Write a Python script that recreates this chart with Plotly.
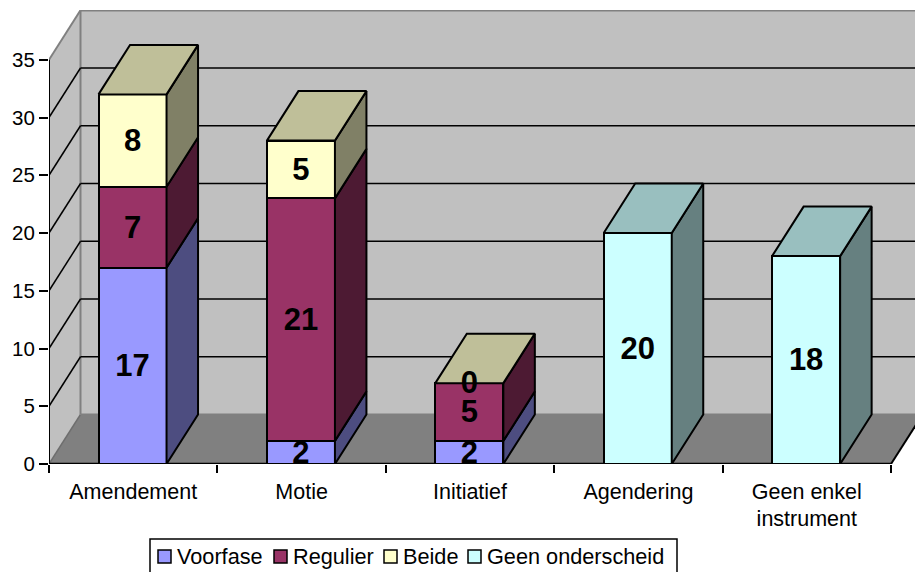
import plotly.graph_objects as go

# Series data
categories = ["Amendement", "Motie", "Initiatief", "Agendering", "Geen enkel<br>instrument"]
voorfase = [17, 2, 2, None, None]
regulier = [7, 21, 5, None, None]
beide = [8, 5, 0, None, None]
geen_onderscheid = [None, None, None, 20, 18]
series_names = ["Voorfase", "Regulier", "Beide", "Geen onderscheid"]
front_colors = ["#9999FF", "#993366", "#FFFFCC", "#CCFFFF"]
top_colors = ["#7373BF", "#732640", "#BFBF99", "#99BFBF"]
side_colors = ["#4D4D80", "#4D1A33", "#808066", "#668080"]
y_ticks = [0, 5, 10, 15, 20, 25, 30, 35]

series = [voorfase, regulier, beide, geen_onderscheid]

FONT = "Liberation Sans, Arial, sans-serif"
TEXT_SIZE = 21.5
LEGEND_SIZE = 21.7
TICK_SIZE = 20.5
LABEL_SIZE = 31

# Plot frame in pixels
LEFT, RIGHT, TOP, BOTTOM = 49, 915, 10, 464
CAT_W = 168.4
UNIT = 11.55

# Oblique projection depth, expressed in axis units
DX = 31.5 / CAT_W
DY = 49.5 / UNIT
BAR_W = 0.404
BAR_SHIFT = -0.004
LABEL_DROP = 0.22
N = len(categories)
Y_MAX = 35
x_max = (RIGHT - LEFT) / CAT_W
y_top = (BOTTOM - TOP) / UNIT


def polygon(xs, ys, fill, line="rgba(0,0,0,0)", width=1):
    path = "M" + "L".join(f"{x},{y}" for x, y in zip(xs, ys)) + "Z"
    return dict(type="path", path=path, xref="x", yref="y", fillcolor=fill,
                line=dict(color=line, width=width), layer="below")


def segment(xa, ya, xb, yb, color, width=1.5):
    return dict(type="line", xref="x", yref="y", x0=xa, y0=ya, x1=xb, y1=yb,
                line=dict(color=color, width=width), layer="below")


def px(p):
    return (p - LEFT) / (RIGHT - LEFT)


def py(p):
    return (BOTTOM - p) / (BOTTOM - TOP)


shapes = [
    # back wall, side wall and floor
    polygon([DX, N + DX, N + DX, DX], [DY, DY, Y_MAX + DY, Y_MAX + DY], "#C0C0C0"),
    polygon([0, DX, DX, 0], [0, DY, Y_MAX + DY, Y_MAX], "#C0C0C0"),
    polygon([0, N, N + DX, DX], [0, 0, DY, DY], "#808080"),
    segment(0, 0, DX, DY, "#6E6E6E"),
    segment(DX, DY, DX, Y_MAX + DY, "#808080", 2),
    segment(DX, DY, N + DX, DY, "#808080", 2),
    segment(0, Y_MAX, DX, Y_MAX + DY, "#808080", 2),
    segment(DX, Y_MAX + DY, N + DX, Y_MAX + DY, "#808080", 2.5),
]
# gridlines run across the side wall and along the back wall
for t in y_ticks[1:-1]:
    shapes.append(segment(0, t, DX, t + DY, "#000000", 1.5))
    shapes.append(segment(DX, t + DY, N + DX, t + DY, "#000000", 1.5))
# axis lines and the open right edge of the floor
shapes.append(segment(0, 0, 0, Y_MAX, "#000000", 2))
shapes.append(segment(0, 0, N, 0, "#000000", 2.5))
shapes.append(segment(N, 0, N + DX, DY, "#000000", 2))

fig = go.Figure()
centers = [i + 0.5 + BAR_SHIFT for i in range(N)]

# Front faces of the stacked columns
for name, values, color in zip(series_names, series, front_colors):
    fig.add_trace(go.Bar(
        x=centers, y=values, name=name, width=BAR_W,
        marker=dict(color=color, line=dict(color="#000000", width=2)),
        showlegend=False,
    ))


def face(xs, ys, fill):
    fig.add_trace(go.Scatter(
        x=xs, y=ys, mode="lines", fill="toself", fillcolor=fill,
        line=dict(color="#000000", width=2), hoverinfo="skip", showlegend=False,
    ))


# Side and top faces, plus the value labels at each segment's midpoint
label_x, label_y, label_text = [], [], []
for i, c in enumerate(centers):
    base = 0
    x0 = c - BAR_W / 2
    x1 = c + BAR_W / 2
    top_color = None
    for s, values in enumerate(series):
        v = values[i]
        if v is None:
            continue
        if v > 0:
            face([x1, x1 + DX, x1 + DX, x1, x1],
                 [base, base + DY, base + v + DY, base + v, base], side_colors[s])
        label_x.append(c)
        label_y.append(base + v / 2 - LABEL_DROP)
        label_text.append(str(v))
        base += v
        top_color = top_colors[s]
    face([x0, x1, x1 + DX, x0 + DX, x0],
         [base, base, base + DY, base + DY, base], top_color)

fig.add_trace(go.Scatter(
    x=label_x, y=label_y, text=label_text, mode="text", textposition="middle center",
    textfont=dict(family=FONT, size=LABEL_SIZE, color="#000000"),
    texttemplate="<b>%{text}</b>", hoverinfo="skip", showlegend=False, cliponaxis=False,
))

# Legend box, clipped by the bottom of the page
shapes.append(dict(type="rect", xref="paper", yref="paper",
                   x0=px(150), x1=px(677), y0=py(539), y1=py(590),
                   fillcolor="#FFFFFF", line=dict(color="#000000", width=1.5), layer="above"))
annotations = []
swatch_left = [158, 274, 384, 468]
text_left = [175, 291, 401, 485]
for name, color, sx, tx in zip(series_names, front_colors, swatch_left, text_left):
    shapes.append(dict(type="rect", xref="paper", yref="paper",
                       x0=px(sx), x1=px(sx + 13), y0=py(550), y1=py(563),
                       fillcolor=color, line=dict(color="#000000", width=1.5), layer="above"))
    annotations.append(dict(text=name, xref="paper", yref="paper", x=px(tx), y=py(556),
                            xanchor="left", yanchor="middle", showarrow=False,
                            font=dict(family=FONT, size=LEGEND_SIZE, color="#000000")))

fig.update_layout(
    width=915, height=572, barmode="stack", bargap=0,
    margin=dict(l=LEFT, r=915 - RIGHT, t=TOP, b=572 - BOTTOM, pad=0),
    paper_bgcolor="#FFFFFF", plot_bgcolor="#FFFFFF", showlegend=False,
    font=dict(family=FONT, size=TEXT_SIZE, color="#000000"),
    shapes=shapes, annotations=annotations,
    xaxis=dict(
        range=[0, x_max], showgrid=False, zeroline=False, showline=False,
        tickmode="array", tickvals=[i + 0.5 for i in range(N)], ticktext=categories,
        ticks="", tickangle=0, ticklabelstandoff=12,
        minor=dict(tickmode="array", tickvals=list(range(N + 1)), ticks="outside",
                   ticklen=8, tickcolor="#000000", tickwidth=1.5, showgrid=False),
    ),
    yaxis=dict(
        range=[0, y_top], showgrid=False, zeroline=False, showline=False,
        tickmode="array", tickvals=y_ticks, ticks="outside", ticklen=9,
        tickcolor="#000000", tickwidth=1.5, tickfont=dict(size=TICK_SIZE),
    ),
)

fig.write_html("out.html", config=dict(displayModeBar=False))
